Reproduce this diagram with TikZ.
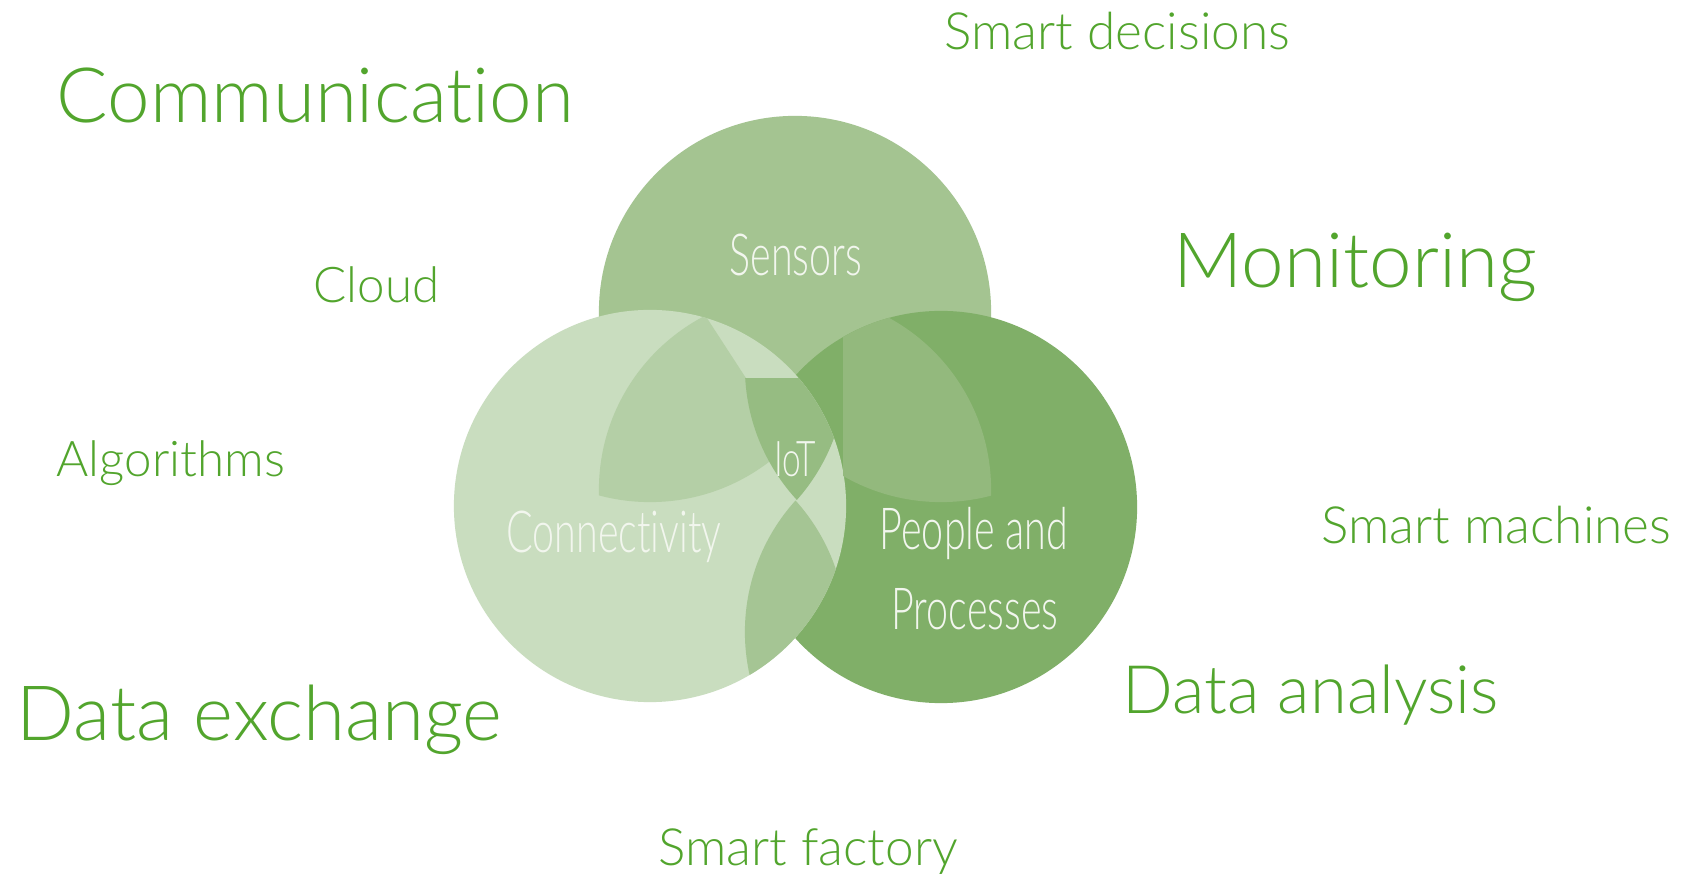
\documentclass[tikz,border=0pt]{standalone}
\usepackage{fontspec}
\setmainfont{Lato Light}[Ligatures=NoCommon]
\usepackage{graphicx}

\definecolor{txtgreen}{RGB}{82,165,45}
\definecolor{sensclr}{RGB}{164,196,145}
\definecolor{connclr}{RGB}{201,221,191}
\definecolor{peopclr}{RGB}{128,175,104}
\definecolor{scclr}{RGB}{180,207,166}
\definecolor{spclr}{RGB}{147,185,125}
\definecolor{iotclr}{RGB}{150,188,130}
\definecolor{cpclr}{RGB}{165,197,148}
\definecolor{lblclr}{RGB}{242,246,238}

\begin{document}
\begin{tikzpicture}[x=0.01cm, y=-0.01cm,
  word/.style={text=txtgreen, inner sep=0pt, anchor=base west},
  bigword/.style={word, font=\fontsize{21.7}{26}\selectfont},
  midword/.style={word, font=\fontsize{19}{23}\selectfont},
  smallword/.style={word, font=\fontsize{14.6}{18}\selectfont},
  tinyword/.style={word, font=\fontsize{14}{17}\selectfont},
  circlbl/.style={text=lblclr, inner sep=0pt, anchor=base, font=\fontsize{16.5}{20}\selectfont}]
\useasboundingbox (0,0) rectangle (1683,874);
\fill[white] (0,0) rectangle (1683,874);

\coordinate (sens) at (795,312);
\coordinate (conn) at (650,506);
\coordinate (peop) at (941,507);

\fill[sensclr] (sens) circle (1.96cm);
\fill[peopclr] (peop) circle (1.96cm);
\fill[connclr] (conn) circle (1.96cm);

% overlaps
\begin{scope}
  \clip (conn) circle (1.96cm);
  \clip (650,306) circle (1.96cm);
  \clip (795,490) circle (1.96cm);
  \clip (400,200) -- (690,292) -- (820,492) -- (820,700) -- (400,700) -- cycle;
  \fill[scclr] (400,200) rectangle (900,700);
\end{scope}
\begin{scope}
  \clip (peop) circle (1.96cm);
  \clip (941,306) circle (1.96cm);
  \clip (795,490) circle (1.96cm);
  \fill[spclr] (843,200) rectangle (1200,700);
\end{scope}
\begin{scope}
  \clip (conn) circle (1.96cm);
  \clip (941,367) circle (1.96cm);
  \clip (650,370) circle (1.96cm);
  \fill[iotclr] (700,378) rectangle (900,600);
\end{scope}
\begin{scope}
  \clip (conn) circle (1.96cm);
  \clip (650,632) circle (1.96cm);
  \clip (941,632) circle (1.96cm);
  \fill[cpclr] (700,400) rectangle (900,700);
\end{scope}

\node[circlbl] (sensors) at (796,276) {\scalebox{0.68}[1]{Sensors}};
\node[circlbl, font=\fontsize{14}{17}\selectfont] (iot) at (795,477) {\scalebox{0.68}[1]{IoT}};
\node[circlbl] (connect) at (614,553) {\scalebox{0.68}[1]{Connectivity}};
\node[circlbl] (people) at (974,550) {\scalebox{0.68}[1]{People and}};
\node[circlbl] (process) at (975,630) {\scalebox{0.68}[1]{Processes}};

\node[bigword] (commun) at (56,123) {Communication};
\node[bigword] (monitor) at (1173,288) {Monitoring};
\node[bigword] (dataex) at (16,741) {Data exchange};
\node[midword] (dataan) at (1122,714) {Data analysis};
\node[smallword] (decide) at (944,50) {Smart decisions};
\node[smallword] (machine) at (1321,544) {Smart machines};
\node[smallword] (factory) at (658,865) {Smart factory};
\node[tinyword] (algo) at (56,477) {Algorithms};
\node[tinyword] (cloud) at (313,303) {Cloud};
\end{tikzpicture}
\end{document}
